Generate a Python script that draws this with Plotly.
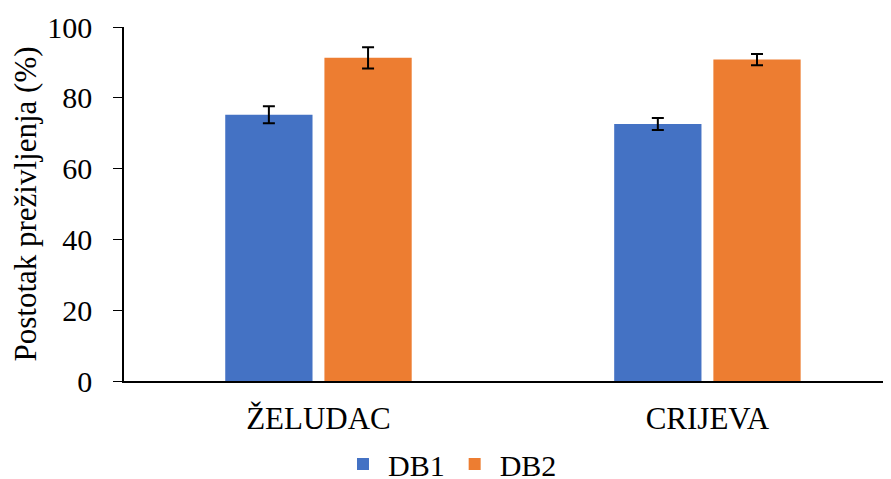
import plotly.graph_objects as go

categories = ["ŽELUDAC", "CRIJEVA"]
db1 = [75.2, 72.6]
db1_err = [2.4, 1.7]
db2 = [91.3, 90.8]
db2_err = [3.0, 1.6]

font = "Liberation Serif"

fig = go.Figure()
fig.add_trace(go.Bar(name="DB1", x=categories, y=db1, marker_color="#4472C4",
                     error_y=dict(type="data", array=db1_err, color="black", thickness=2, width=6)))
fig.add_trace(go.Bar(name="DB2", x=categories, y=db2, marker_color="#ED7D31",
                     error_y=dict(type="data", array=db2_err, color="black", thickness=2, width=6)))

fig.update_layout(
    template="none",
    width=891, height=479,
    margin=dict(l=116, r=8, t=19, b=106, autoexpand=False),
    barmode="group", bargap=0.49, bargroupgap=0.12,
    plot_bgcolor="white", paper_bgcolor="white",
    font=dict(family=font, size=30, color="black"),
    legend=dict(orientation="h", x=0.425, xanchor="center", xref="paper",
                y=0.048, yanchor="middle", yref="container",
                font=dict(family=font, size=30), itemwidth=40, traceorder="normal"),
    showlegend=True,
)
fig.update_xaxes(range=[-0.5, 1.472], showline=True, linecolor="black", linewidth=1.5,
                 ticks="", ticklabelstandoff=9, showgrid=False, zeroline=False, automargin=False,
                 tickfont=dict(family=font, size=31))
fig.update_yaxes(range=[0, 100], dtick=20, showline=True, linecolor="black", linewidth=1.5,
                 ticks="outside", ticklen=9, tickcolor="black", showgrid=False, zeroline=False,
                 automargin=False, ticklabelstandoff=15,
                 tickfont=dict(family=font, size=30),
                 title=dict(text="Postotak preživljenja (%)", font=dict(family=font, size=31), standoff=6))
fig.write_html("out.html")
